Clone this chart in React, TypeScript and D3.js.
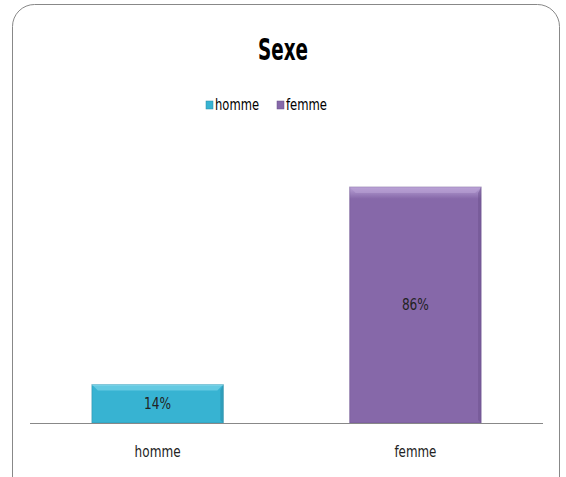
import React from "react";
import * as d3 from "d3";

const categories = ["homme", "femme"];
const values = [14, 86];
const labels = ["14%", "86%"];
const colors = ["#37b3d2", "#8668a9"];
const lightColors = ["#8adcee", "#b9a2d6"];
const darkColors = ["#2a8aa3", "#6a4f8b"];

const W = 566;
const H = 477;
const font = "'Liberation Sans Narrow', 'DejaVu Sans Condensed', 'Arial Narrow', sans-serif";

export default function App() {
  const x = d3.scaleBand<string>().domain(categories).range([30, 543]).paddingInner(0.49).paddingOuter(0.24);
  const y = d3.scaleLinear().domain([0, 100]).range([423, 148.6]);
  const bw = x.bandwidth();
  const legendX = [206, 277];
  const legendLen = [44, 41];
  return (
    <svg width={W} height={H} style={{ position: "absolute", left: 0, top: 0, background: "#fff" }}>
      <defs>
        {categories.map((c, i) => (
          <linearGradient key={c} id={`g${i}`} x1="0" y1="0" x2="0" y2="1">
            <stop offset="0" stopColor={lightColors[i]} />
            <stop offset="0.05" stopColor={colors[i]} />
            <stop offset="1" stopColor={colors[i]} />
          </linearGradient>
        ))}
      </defs>
      <rect x={12.5} y={4.5} width={547} height={500} rx={22} ry={22} fill="#fff" stroke="#888" strokeWidth={1} />
      <text x={283} y={60} textAnchor="middle" fontFamily={font} fontWeight="bold" fontSize={30} fill="#000" textLength={50} lengthAdjust="spacingAndGlyphs">Sexe</text>
      {categories.map((c, i) => {
        const lx = legendX[i];
        return (
          <g key={c}>
            <rect x={lx} y={101} width={7} height={8} fill={colors[i]} stroke={darkColors[i]} strokeWidth={0.5} />
            <text x={lx + 9} y={110} fontFamily={font} fontSize={15} fill="#000" textLength={legendLen[i]} lengthAdjust="spacingAndGlyphs">{c}</text>
          </g>
        );
      })}
      {categories.map((c, i) => {
        const bx = x(c)!;
        const by = y(values[i]);
        const bh = y(0) - by;
        return (
          <g key={c}>
            <rect x={bx} y={by} width={bw} height={bh} fill={`url(#g${i})`} stroke={darkColors[i]} strokeOpacity={0.5} strokeWidth={1} />
            <polygon points={`${bx},${by} ${bx + bw},${by} ${bx + bw - 6},${by + 6} ${bx + 6},${by + 6}`} fill={lightColors[i]} opacity={0.55} />
            <polygon points={`${bx + bw},${by} ${bx + bw},${by + bh} ${bx + bw - 3},${by + bh - 3} ${bx + bw - 3},${by + 6}`} fill={darkColors[i]} opacity={0.5} />
            <text x={bx + bw / 2} y={by + bh / 2 + 5} textAnchor="middle" fontFamily={font} fontSize={15} fill="#222" textLength={27} lengthAdjust="spacingAndGlyphs">{labels[i]}</text>
            <text x={bx + bw / 2} y={457} textAnchor="middle" fontFamily={font} fontSize={15} fill="#222" textLength={i === 0 ? 46 : 42} lengthAdjust="spacingAndGlyphs">{c}</text>
          </g>
        );
      })}
      <line x1={30} x2={543} y1={423.5} y2={423.5} stroke="#888" strokeWidth={1} />
    </svg>
  );
}
